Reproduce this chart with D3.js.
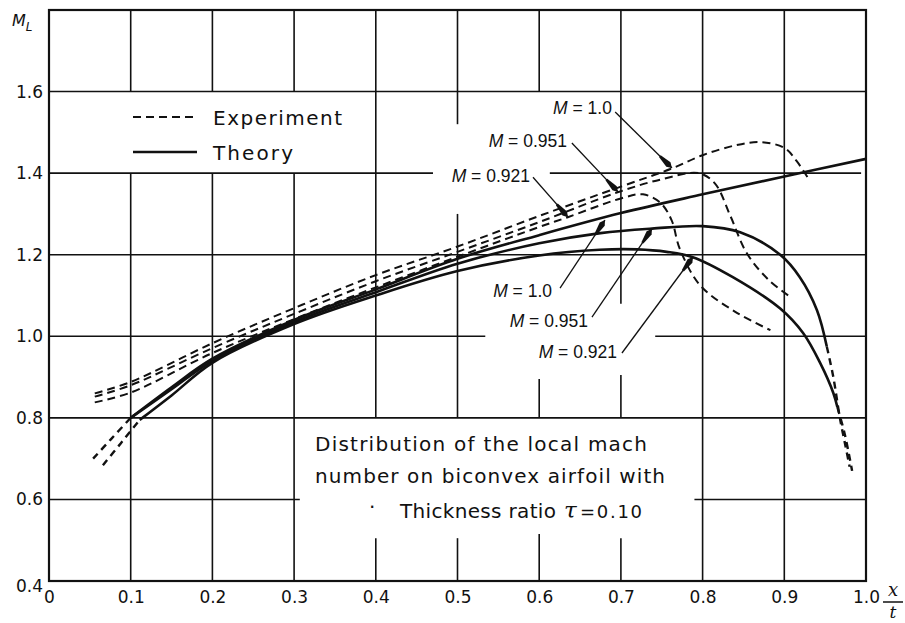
<!DOCTYPE html>
<html lang="en">
<head>
<meta charset="UTF-8">
<title>Local Mach number on biconvex airfoil</title>
<script src="https://cdn.jsdelivr.net/npm/d3@7"></script>
<style>
  body { margin: 0; background: #fff; }
  text { fill: #111; }
</style>
</head>
<body>
<svg id="chart" width="905" height="623"></svg>
<script>
// ---- values: [x/t, M_L] ----
const experiment10 = [[0.056,0.860],[0.1,0.888],[0.2,0.983],[0.3,1.069],[0.4,1.150],[0.5,1.220],[0.6,1.295],[0.7,1.367],[0.763,1.412],[0.8,1.444],[0.84,1.468],[0.87,1.476],[0.9,1.462],[0.915,1.430],[0.929,1.388]];
const experiment0951 = [[0.056,0.852],[0.1,0.880],[0.2,0.971],[0.3,1.055],[0.4,1.135],[0.5,1.207],[0.6,1.280],[0.696,1.353],[0.75,1.385],[0.795,1.400],[0.815,1.375],[0.834,1.295],[0.854,1.204],[0.88,1.140],[0.909,1.094]];
const experiment0921 = [[0.056,0.838],[0.1,0.862],[0.2,0.959],[0.3,1.042],[0.4,1.120],[0.5,1.195],[0.6,1.268],[0.635,1.292],[0.7,1.338],[0.727,1.348],[0.748,1.328],[0.762,1.285],[0.772,1.215],[0.797,1.125],[0.84,1.060],[0.883,1.015]];

const theory10 = [[0.1,0.800],[0.15,0.875],[0.2,0.945],[0.3,1.040],[0.4,1.115],[0.5,1.190],[0.6,1.248],[0.7,1.302],[0.8,1.348],[0.9,1.392],[1.0,1.435]];
const theory0951 = [[0.1,0.800],[0.15,0.870],[0.2,0.940],[0.3,1.035],[0.4,1.108],[0.5,1.178],[0.6,1.228],[0.675,1.253],[0.738,1.264],[0.8,1.270],[0.846,1.255],[0.895,1.200],[0.919,1.145],[0.94,1.064],[0.952,0.975]];
const theory0921 = [[0.111,0.795],[0.15,0.855],[0.2,0.935],[0.3,1.030],[0.4,1.100],[0.5,1.160],[0.6,1.198],[0.674,1.212],[0.72,1.213],[0.756,1.207],[0.788,1.194],[0.837,1.145],[0.895,1.068],[0.923,1.008],[0.944,0.934],[0.96,0.861],[0.965,0.826]];

// theory continued as dashed near leading and trailing edge
const theoryLeadA = [[0.054,0.700],[0.076,0.748],[0.1,0.800]];
const theoryLeadB = [[0.066,0.684],[0.088,0.738],[0.111,0.795]];
const theoryTrail0951 = [[0.952,0.975],[0.96,0.900],[0.968,0.800],[0.975,0.730],[0.98,0.680]];
const theoryTrail0921 = [[0.965,0.826],[0.974,0.760],[0.983,0.670]];

const xTicks = [0,0.1,0.2,0.3,0.4,0.5,0.6,0.7,0.8,0.9,1.0];
const yTicks = [0.4,0.6,0.8,1.0,1.2,1.4,1.6];

// grid lines and the pieces that are left open for labels (data units)
const vGrid = [
  [0.1, [[0.4,1.4],[1.6,1.8]]],
  [0.2, [[0.4,1.4],[1.6,1.8]]],
  [0.3, [[0.4,1.4],[1.6,1.8]]],
  [0.4, [[0.4,0.505],[0.8,1.8]]],
  [0.5, [[0.4,0.505],[0.8,1.30],[1.52,1.8]]],
  [0.6, [[0.4,0.515],[0.8,0.895],[1.6,1.8]]],
  [0.7, [[0.4,0.505],[0.8,0.905],[1.08,1.8]]],
  [0.8, [[0.4,1.8]]],
  [0.9, [[0.4,1.8]]]
];
const hGrid = [
  [0.6, [[0,0.307],[0.79,1]]],
  [0.8, [[0,1]]],
  [1.0, [[0,0.534],[0.742,1]]],
  [1.2, [[0,1]]],
  [1.4, [[0,0.47],[0.613,0.994]]],
  [1.6, [[0,1]]]
];

// arrow labels: text end point, arrow start, arrow tip (data units)
const annotations = [
  { value: "1.0",   text: [0.689, 1.545], from: [0.693, 1.550], to: [0.7625, 1.4126] },
  { value: "0.951", text: [0.634, 1.464], from: [0.640, 1.474], to: [0.6965, 1.354] },
  { value: "0.921", text: [0.5887, 1.378], from: [0.5924, 1.390], to: [0.6353, 1.292] },
  { value: "1.0",   text: [0.6157, 1.096], from: [0.6255, 1.118], to: [0.6805, 1.285] },
  { value: "0.951", text: [0.6597, 1.0226], from: [0.6646, 1.047], to: [0.738, 1.2636] },
  { value: "0.921", text: [0.6952, 0.9466], from: [0.7013, 0.959], to: [0.7882, 1.1944] }
];

const noteLines = ["Distribution of the local mach", "number on biconvex airfoil with"];

// ---- drawing ----
const svg = d3.select("#chart");
const x = d3.scaleLinear().domain([0, 1]).range([49, 866]);
const y = d3.scaleLinear().domain([0.4, 1.8]).range([581, 10]);
const ink = "#111";
const font = "'DejaVu Sans', sans-serif";

// grid
const grid = svg.append("g").attr("stroke", ink).attr("stroke-width", 1.6);
vGrid.forEach(([v, segs]) => {
  segs.forEach(([a, b]) => {
    grid.append("line").attr("x1", x(v)).attr("x2", x(v)).attr("y1", y(a)).attr("y2", y(b));
  });
});
hGrid.forEach(([v, segs]) => {
  segs.forEach(([a, b]) => {
    grid.append("line").attr("y1", y(v)).attr("y2", y(v)).attr("x1", x(a)).attr("x2", x(b));
  });
});

// frame
svg.append("rect")
  .attr("x", x(0)).attr("y", y(1.8))
  .attr("width", x(1) - x(0)).attr("height", y(0.4) - y(1.8))
  .attr("fill", "none").attr("stroke", ink).attr("stroke-width", 2.2);

// axes (labels only, the frame is the axis line)
const yAxis = svg.append("g")
  .attr("transform", `translate(${x(0)},0)`)
  .call(d3.axisLeft(y).tickValues(yTicks).tickSize(0).tickPadding(6).tickFormat(d3.format(".1f")));
const xAxis = svg.append("g")
  .attr("transform", `translate(0,${y(0.4)})`)
  .call(d3.axisBottom(x).tickValues(xTicks).tickSize(0).tickPadding(10)
    .tickFormat(d => d === 0 ? "0" : d3.format(".1f")(d)));
[yAxis, xAxis].forEach(g => {
  g.select(".domain").remove();
  g.selectAll("text").attr("font-family", font).attr("font-size", 17).attr("fill", ink);
});
yAxis.selectAll(".tick").filter(d => d === 0.4).select("text").attr("dy", "0.6em");

// axis titles
const mL = svg.append("text").attr("x", 12).attr("y", 26)
  .attr("font-family", font).attr("font-size", 16).attr("font-style", "italic");
mL.append("tspan").text("M");
mL.append("tspan").attr("font-size", 12).attr("dy", 5).text("L");

svg.append("text").attr("x", 893).attr("y", 596).attr("text-anchor", "middle")
  .attr("font-family", "'DejaVu Serif', serif").attr("font-size", 18).attr("font-style", "italic").text("x");
svg.append("line").attr("x1", 883).attr("x2", 903).attr("y1", 602).attr("y2", 602)
  .attr("stroke", ink).attr("stroke-width", 1.5);
svg.append("text").attr("x", 893).attr("y", 618).attr("text-anchor", "middle")
  .attr("font-family", "'DejaVu Serif', serif").attr("font-size", 17).attr("font-style", "italic").text("t");

// curves
const line = d3.line()
  .x(d => x(d[0])).y(d => y(d[1]))
  .curve(d3.curveCatmullRom.alpha(0.5));
const curves = svg.append("g").attr("fill", "none").attr("stroke", ink);
[experiment10, experiment0951, experiment0921].forEach(s => {
  curves.append("path").attr("d", line(s)).attr("stroke-width", 2).attr("stroke-dasharray", "8,5");
});
[theoryLeadA, theoryLeadB, theoryTrail0951, theoryTrail0921].forEach(s => {
  curves.append("path").attr("d", line(s)).attr("stroke-width", 2.4).attr("stroke-dasharray", "7,5");
});
[theory10, theory0951, theory0921].forEach(s => {
  curves.append("path").attr("d", line(s)).attr("stroke-width", 2.6);
});

// legend
svg.append("line").attr("x1", 133).attr("x2", 195).attr("y1", 117).attr("y2", 117)
  .attr("stroke", ink).attr("stroke-width", 2).attr("stroke-dasharray", "8,5");
svg.append("line").attr("x1", 133).attr("x2", 197).attr("y1", 152).attr("y2", 152)
  .attr("stroke", ink).attr("stroke-width", 2.6);
svg.append("text").attr("x", 213).attr("y", 125).attr("font-family", font).attr("font-size", 20)
  .attr("textLength", 129).attr("lengthAdjust", "spacing").text("Experiment");
svg.append("text").attr("x", 213).attr("y", 160).attr("font-family", font).attr("font-size", 20)
  .attr("textLength", 80).attr("lengthAdjust", "spacing").text("Theory");

// arrows with labels
const notes = svg.append("g");
annotations.forEach(a => {
  const t = notes.append("text")
    .attr("x", x(a.text[0])).attr("y", y(a.text[1]))
    .attr("text-anchor", "end")
    .attr("font-family", "'Liberation Sans', Arial, sans-serif").attr("font-size", 17.5);
  t.append("tspan").attr("font-style", "italic").text("M");
  t.append("tspan").text(" = " + a.value);

  const x1 = x(a.from[0]), y1 = y(a.from[1]), x2 = x(a.to[0]), y2 = y(a.to[1]);
  notes.append("line").attr("x1", x1).attr("y1", y1).attr("x2", x2).attr("y2", y2)
    .attr("stroke", ink).attr("stroke-width", 1.3);
  const ang = Math.atan2(y2 - y1, x2 - x1) * 180 / Math.PI;
  notes.append("path")
    .attr("d", "M0,0 L-5,-3 L-17,-1.2 L-17,1.2 L-5,3 Z")
    .attr("transform", `translate(${x2},${y2}) rotate(${ang})`)
    .attr("fill", ink);
});

// text block
const noteFont = 20;
svg.append("text").attr("x", 315).attr("y", 451).attr("font-family", font).attr("font-size", noteFont)
  .attr("textLength", 332).attr("lengthAdjust", "spacing").text(noteLines[0]);
svg.append("text").attr("x", 315).attr("y", 483).attr("font-family", font).attr("font-size", noteFont)
  .attr("textLength", 350).attr("lengthAdjust", "spacing").text(noteLines[1]);
svg.append("text").attr("x", 369).attr("y", 508).attr("font-family", font).attr("font-size", noteFont).text(".");
const t3 = svg.append("text").attr("y", 518).attr("font-family", font).attr("font-size", noteFont);
t3.append("tspan").attr("x", 400).attr("textLength", 156).attr("lengthAdjust", "spacing").text("Thickness ratio");
t3.append("tspan").attr("x", 564).attr("font-family", "'DejaVu Serif', serif").attr("font-style", "italic")
  .attr("font-size", 23).text("τ");
t3.append("tspan").attr("x", 580).attr("font-size", 18).attr("textLength", 62).attr("lengthAdjust", "spacing").text("=0.10");
</script>
</body>
</html>
